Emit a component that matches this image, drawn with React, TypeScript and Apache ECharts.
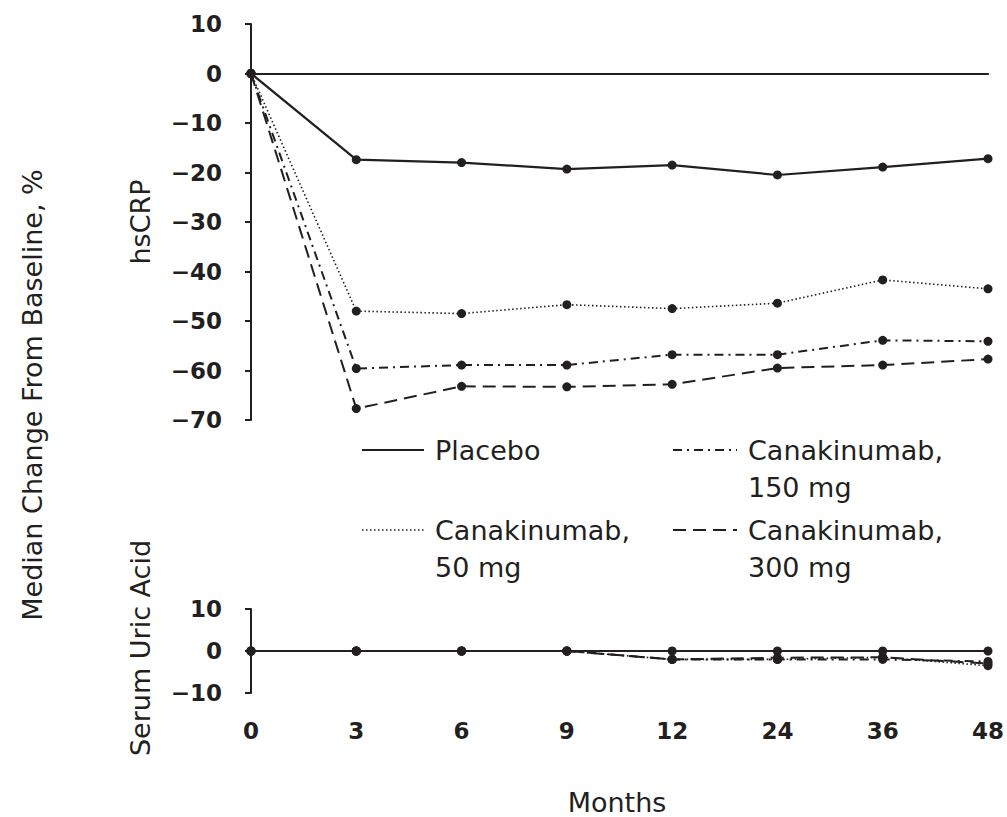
import React, { useEffect, useRef } from "react";
import * as echarts from "echarts";

const months = ["0", "3", "6", "9", "12", "24", "36", "48"];

const hsPlacebo = [0, -17.4, -18, -19.3, -18.5, -20.5, -18.9, -17.2];
const hs50 = [0, -48, -48.5, -46.7, -47.5, -46.4, -41.7, -43.5];
const hs150 = [0, -59.6, -58.9, -58.9, -56.8, -56.8, -53.9, -54.1];
const hs300 = [0, -67.7, -63.2, -63.3, -62.8, -59.5, -58.9, -57.7];

const uaPlacebo = [0, 0, 0, 0, 0, 0, 0, 0];
const ua50 = [0, 0, 0, 0, -2, -2, -1.5, -3.5];
const ua150 = [0, 0, 0, 0, -2, -2, -2, -2.5];
const ua300 = [0, 0, 0, 0, -2, -1.6, -1.5, -3];

const seriesNames = ["Placebo", "Canakinumab, 50 mg", "Canakinumab, 150 mg", "Canakinumab, 300 mg"];

const INK = "#231f20";
const FONT = "DejaVu Sans";

const styles = [
  { type: "solid" as any, width: 2.2 },
  { type: [1.5, 2.5], width: 1.6 },
  { type: [9, 5, 2, 5], width: 2 },
  { type: [13, 7], width: 2 },
];

const fmt = (v: number) => String(v).replace("-", "\u2212");

export default function App() {
  const ref = useRef<HTMLDivElement>(null);
  useEffect(() => {
    const chart = echarts.init(ref.current!, null, { renderer: "svg" });
    const mk = (name: string, data: number[], i: number, panel: number, extra: any = {}) => ({
      name,
      type: "line",
      xAxisIndex: panel,
      yAxisIndex: panel,
      data,
      symbol: "circle",
      symbolSize: 9,
      itemStyle: { color: INK },
      lineStyle: { color: INK, width: styles[i].width, type: styles[i].type },
      z: 10 - i,
      ...extra,
    });
    const topData = [hsPlacebo, hs50, hs150, hs300];
    const botData = [uaPlacebo, ua50, ua150, ua300];
    const series: any[] = [];
    topData.forEach((d, i) => series.push(mk(seriesNames[i], d, i, 0)));
    botData.forEach((d, i) =>
      series.push(
        mk(seriesNames[i], d, i, 1,
          i === 0
            ? {
                markLine: {
                  silent: true,
                  symbol: "none",
                  label: { show: false },
                  lineStyle: { color: INK, width: 2.2, type: "solid" },
                  data: [{ yAxis: 0 }],
                },
              }
            : {}
        )
      )
    );
    const tickLabel = {
      color: INK,
      fontFamily: FONT,
      fontSize: 23,
      fontWeight: "bold",
      margin: 29,
      formatter: fmt,
    };
    const legendText = (x: number, y: number, text: string) => ({
      type: "text",
      x,
      y,
      style: {
        text,
        fill: INK,
        fontFamily: FONT,
        fontSize: 27,
        lineHeight: 37,
        textVerticalAlign: "middle",
      },
    });
    const legendLine = (x1: number, x2: number, y: number, i: number) => ({
      type: "line",
      shape: { x1, y1: y, x2, y2: y },
      style: {
        stroke: INK,
        lineWidth: styles[i].width,
        lineDash: Array.isArray(styles[i].type) ? styles[i].type : null,
      },
    });
    const rotText = (x: number, y: number, text: string) => ({
      type: "text",
      x,
      y,
      rotation: Math.PI / 2,
      style: {
        text,
        fill: INK,
        fontFamily: FONT,
        fontSize: 27,
        textAlign: "center",
        textVerticalAlign: "middle",
      },
    });
    chart.setOption({
      animation: false,
      backgroundColor: "#ffffff",
      grid: [
        { left: 251, right: 19, top: 24, height: 396 },
        { left: 251, right: 19, top: 609, height: 84 },
      ],
      xAxis: [
        {
          type: "category",
          gridIndex: 0,
          data: months,
          boundaryGap: false,
          axisLine: { onZero: true, lineStyle: { color: INK, width: 2.2 } },
          axisTick: { show: false },
          axisLabel: { show: false },
        },
        {
          type: "category",
          gridIndex: 1,
          data: months,
          boundaryGap: false,
          axisLine: { show: false, onZero: false },
          axisTick: { show: false },
          axisLabel: { color: INK, fontFamily: FONT, fontSize: 23, fontWeight: "bold", margin: 26 },
        },
      ],
      yAxis: [
        {
          type: "value",
          gridIndex: 0,
          min: -70,
          max: 10,
          interval: 10,
          axisLine: { show: true, onZero: false, lineStyle: { color: INK, width: 2 } },
          axisTick: { show: true, length: 6, lineStyle: { color: INK, width: 2 } },
          axisLabel: tickLabel,
          splitLine: { show: false },
        },
        {
          type: "value",
          gridIndex: 1,
          min: -10,
          max: 10,
          interval: 10,
          axisLine: { show: true, onZero: false, lineStyle: { color: INK, width: 2 } },
          axisTick: { show: true, length: 6, lineStyle: { color: INK, width: 2 } },
          axisLabel: tickLabel,
          splitLine: { show: false },
        },
      ],
      series,
      graphic: [
        rotText(32, 395, "Median Change From Baseline, %"),
        rotText(140, 222, "hsCRP"),
        rotText(140, 648, "Serum Uric Acid"),
        {
          type: "text",
          x: 617,
          y: 802,
          style: {
            text: "Months",
            fill: INK,
            fontFamily: FONT,
            fontSize: 27,
            lineHeight: 26,
            textAlign: "center",
            textVerticalAlign: "middle",
          },
        },
        legendLine(362, 424, 450, 0),
        legendText(435, 468.5, "Placebo\n "),
        legendLine(673, 737, 450, 2),
        legendText(748, 468.5, "Canakinumab,\n150 mg"),
        legendLine(362, 424, 530, 1),
        legendText(435, 548.5, "Canakinumab,\n50 mg"),
        legendLine(673, 737, 530, 3),
        legendText(748, 548.5, "Canakinumab,\n300 mg"),
      ],
    });
    return () => chart.dispose();
  }, []);
  return (
    <div
      ref={ref}
      style={{ position: "fixed", left: 0, top: 0, width: 1007, height: 817 }}
    />
  );
}
